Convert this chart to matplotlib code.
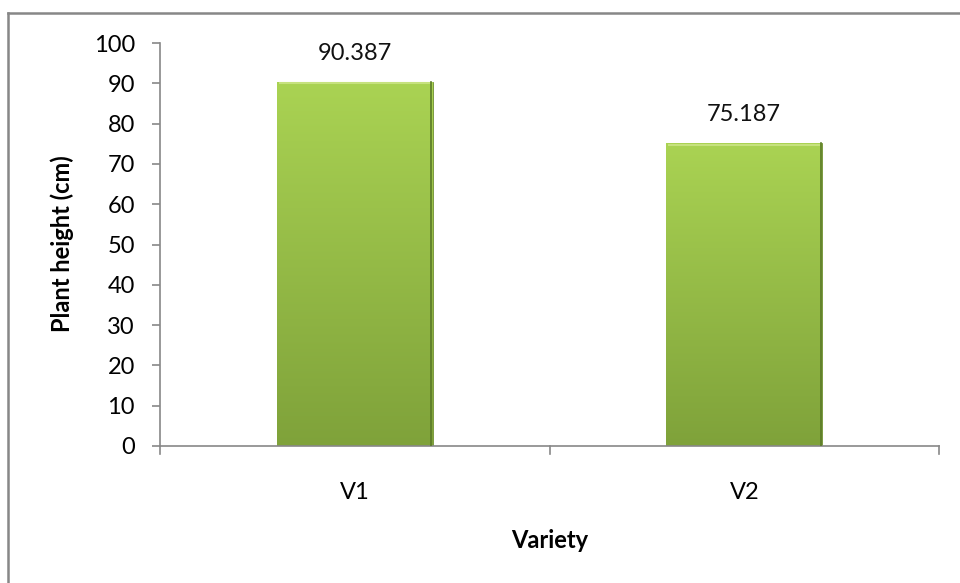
import matplotlib
matplotlib.use("Agg")
import matplotlib.pyplot as plt
import numpy as np
from matplotlib.colors import LinearSegmentedColormap
from matplotlib.lines import Line2D

varieties = ["V1", "V2"]
heights = [90.387, 75.187]
y_ticks = list(range(0, 101, 10))

plt.rcParams['font.family'] = ['Lato', 'DejaVu Sans']
FS = 17

fig = plt.figure(figsize=(9.6, 5.83), dpi=100)
ax = fig.add_axes([160 / 960, 1 - 446 / 583, 779 / 960, 403 / 583])

x = np.arange(len(varieties))
bars = ax.bar(x, heights, width=0.4, color='#9dc74a',
              edgecolor='#6f8f32', linewidth=0.6, zorder=2)

# vertical gradient, light at the top and darker toward the base
grad = LinearSegmentedColormap.from_list('g', ['#7fa23a', '#aad353'])
for bar in bars:
    x0, w, h = bar.get_x(), bar.get_width(), bar.get_height()
    img = ax.imshow(np.linspace(0, 1, 256).reshape(-1, 1), cmap=grad,
                    origin='lower', aspect='auto',
                    extent=[x0, x0 + w, 0, h], zorder=2.5)
    img.set_clip_path(bar)
    # light bevel on top, shadow on the right
    ax.plot([x0 + 0.005, x0 + w - 0.005], [h - 0.4, h - 0.4],
            color='#c6e27e', lw=1.5, zorder=3, solid_capstyle='butt')
    ax.plot([x0 + w - 0.003, x0 + w - 0.003], [0, h], color='#5b7a28',
            lw=1.2, zorder=3)
    ax.text(x0 + w / 2, h + 7, f'{h:.3f}', ha='center', va='center',
            fontsize=FS, color='#111111')

ax.set_xlim(-0.5, 1.5)
ax.set_ylim(0, 100)
ax.set_yticks(y_ticks)
ax.set_yticklabels([str(t) for t in y_ticks], fontsize=FS)
ax.set_xticks(x)
ax.set_xticklabels(varieties, fontsize=FS)
ax.tick_params(axis='x', length=0, pad=26)
ax.tick_params(axis='y', length=6, width=1.2, color='#888888', pad=12)

# category boundary ticks below the x axis
for xb in [-0.5, 0.5, 1.5]:
    ax.plot([xb, xb], [0, -2], color='#888888', lw=1.2, clip_on=False,
            zorder=1)

for side in ['top', 'right']:
    ax.spines[side].set_visible(False)
for side in ['left', 'bottom']:
    ax.spines[side].set_color('#888888')
    ax.spines[side].set_linewidth(1.2)

fig.text(62 / 960, 1 - 244 / 583, 'Plant height (cm)', rotation=90,
         ha='center', va='center', fontsize=FS, fontweight='bold')
fig.text(550 / 960, 1 - 540 / 583, 'Variety', ha='center', va='center',
         fontsize=FS, fontweight='bold')

# chart area border
fig.add_artist(Line2D([8 / 960, 1], [1 - 13 / 583] * 2, color='#878787',
                      lw=1.8, transform=fig.transFigure))
fig.add_artist(Line2D([8 / 960] * 2, [0, 1 - 13 / 583], color='#878787',
                      lw=1.8, transform=fig.transFigure))

fig.savefig('out.png', dpi=100)
